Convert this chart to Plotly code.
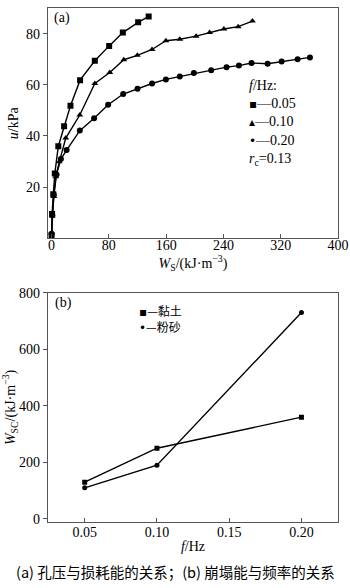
import plotly.graph_objects as go
from plotly.subplots import make_subplots

# ---- panel (a): pore pressure u vs dissipated energy W_S ----
ws_005 = [0, 0.7, 2.4, 4.5, 9.4, 17.5, 26.4, 39.8, 60.4, 80.4, 99.5, 120.9, 135.6]
u_005 = [1.2, 9.5, 17.2, 25.3, 36.0, 43.8, 51.8, 61.8, 69.4, 75.2, 80.4, 84.4, 86.7]

ws_010 = [0.3, 1.0, 3.1, 5.9, 10.8, 19.8, 39.4, 60.4, 81.3, 100.9, 119.8, 140.3,
          159.6, 179.1, 201.9, 220.7, 240.6, 260.6, 280.5]
u_010 = [2.2, 8.7, 16.4, 24.1, 29.9, 39.2, 48.2, 60.5, 64.8, 69.8, 71.5, 73.8,
         77.2, 77.8, 79.0, 80.4, 81.8, 82.7, 84.9]

ws_020 = [0, 1.0, 3.1, 7.0, 13.0, 21.0, 39.4, 59.4, 79.0, 100.0, 120.0, 140.3,
          159.6, 179.0, 198.7, 222.9, 244.4, 261.6, 279.3, 301.7, 321.3, 343.6, 360.8]
u_020 = [1.8, 9.0, 17.0, 25.0, 31.0, 34.5, 42.1, 46.9, 52.2, 56.4, 58.5, 60.5,
         62.1, 63.2, 64.6, 65.7, 66.9, 67.5, 68.5, 68.2, 69.1, 70.0, 70.7]

# ---- panel (b): collapse energy vs loading frequency ----
freq = [0.05, 0.10, 0.20]
wsc_clay = [130, 250, 360]
wsc_silt = [110, 190, 730]

x_ticks_a = [0, 80, 160, 240, 320, 400]
y_ticks_a = [20, 40, 60, 80]
x_ticks_b = [0.05, 0.10, 0.15, 0.20]
x_ticktext_b = ["0.05", "0.10", "0.15", "0.20"]
y_ticks_b = [0, 200, 400, 600, 800]

freq_labels = ["0.05", "0.10", "0.20"]
soil_labels = ["黏土", "粉砂"]

SERIF = "Liberation Serif, Times New Roman, serif"
CJK = "Noto Sans CJK SC"
AX = "#555555"

fig = make_subplots(rows=2, cols=1)
fig.update_layout(
    xaxis=dict(domain=[0, 1], anchor="y"),
    yaxis=dict(domain=[0.5518, 1.0], anchor="x"),
    xaxis2=dict(domain=[0, 1], anchor="y2"),
    yaxis2=dict(domain=[0.0, 0.4459], anchor="x2"),
)

line_kw = dict(color="black", width=1.4)
fig.add_trace(go.Scatter(x=ws_005, y=u_005, mode="lines+markers", line=line_kw,
                         marker=dict(symbol="square", size=6, color="black")), row=1, col=1)
fig.add_trace(go.Scatter(x=ws_010, y=u_010, mode="lines+markers", line=line_kw,
                         marker=dict(symbol="triangle-up", size=6, color="black")), row=1, col=1)
fig.add_trace(go.Scatter(x=ws_020, y=u_020, mode="lines+markers", line=line_kw,
                         marker=dict(symbol="circle", size=6, color="black")), row=1, col=1)

fig.add_trace(go.Scatter(x=freq, y=wsc_clay, mode="lines+markers", line=line_kw,
                         marker=dict(symbol="square", size=5, color="black")), row=2, col=1)
fig.add_trace(go.Scatter(x=freq, y=wsc_silt, mode="lines+markers", line=line_kw,
                         marker=dict(symbol="circle", size=5, color="black")), row=2, col=1)

axis_common = dict(showgrid=False, zeroline=False, showline=True, linecolor=AX,
                   linewidth=1.2, mirror=True, tickcolor=AX, ticklen=4,
                   tickfont=dict(family=SERIF, size=14, color="black"))

fig.update_xaxes(range=[-5, 400], tickvals=x_ticks_a, ticks="inside", ticklabelstandoff=-6,
                 title=dict(text="<i>W</i><sub>S</sub>/(kJ·m<sup>−3</sup>)",
                            font=dict(family=SERIF, size=14, color="black"), standoff=1),
                 **axis_common, row=1, col=1)
fig.update_yaxes(range=[0, 90], tickvals=y_ticks_a, ticks="outside",
                 title=dict(text="<i>u</i>/kPa",
                            font=dict(family=SERIF, size=14, color="black"), standoff=4),
                 **axis_common, row=1, col=1)
fig.update_xaxes(range=[0.0246, 0.2253], tickvals=x_ticks_b, ticktext=x_ticktext_b,
                 ticks="inside", ticklabelstandoff=-3,
                 title=dict(text="<i>f</i>/Hz",
                            font=dict(family=SERIF, size=14, color="black"), standoff=2),
                 **axis_common, row=2, col=1)
fig.update_yaxes(range=[-11, 800], tickvals=y_ticks_b, ticks="outside",
                 title=dict(text="<i>W</i><sub>SC</sub>/(kJ·m<sup>−3</sup>)",
                            font=dict(family=SERIF, size=14, color="black"), standoff=4),
                 **axis_common, row=2, col=1)


def sym(ch, size=12):
    return f"<span style='font-family:DejaVu Sans;font-size:{size}px'>{ch}</span>"


def note(text, xref, yref, x, y, font, xanchor="left"):
    return dict(text=text, xref=xref, yref=yref, x=x, y=y, showarrow=False,
                xanchor=xanchor, yanchor="middle", align="left", font=font)


# key for the frequency curves, as one block of lines
key_a = "<br>".join(
    ["<i>f</i>/Hz:"]
    + [f"{sym(s)}—{lab}" for s, lab in zip(["▪", "▴", "•"], freq_labels)]
    + ["<i>r</i><sub>c</sub>=0.13"]
)
key_b = "<br>".join(f"{sym(s)}—{lab}" for s, lab in zip(["▪", "•"], soil_labels))

annotations = [
    note("(a)", "x domain", "y domain", 0.014, 0.955,
         font=dict(family=SERIF, size=14, color="black")),
    note("(b)", "x2 domain", "y2 domain", 0.016, 0.957,
         font=dict(family=SERIF, size=14, color="black")),
    note(key_a, "x domain", "y domain", 0.685, 0.500,
         font=dict(family=SERIF, size=14, color="black")),
    note(key_b, "x2 domain", "y2 domain", 0.306, 0.888,
         font=dict(family=CJK, size=12, color="black")),
    note("(a) 孔压与损耗能的关系；(b) 崩塌能与频率的关系", "paper", "paper", 0.44, -0.096,
         font=dict(family=CJK, size=14.5, color="black"), xanchor="center"),
]

fig.update_layout(
    width=350, height=588,
    margin=dict(l=48, r=12, t=1, b=66),
    paper_bgcolor="white", plot_bgcolor="white",
    showlegend=False,
    annotations=annotations,
)

fig.write_html("out.html")
